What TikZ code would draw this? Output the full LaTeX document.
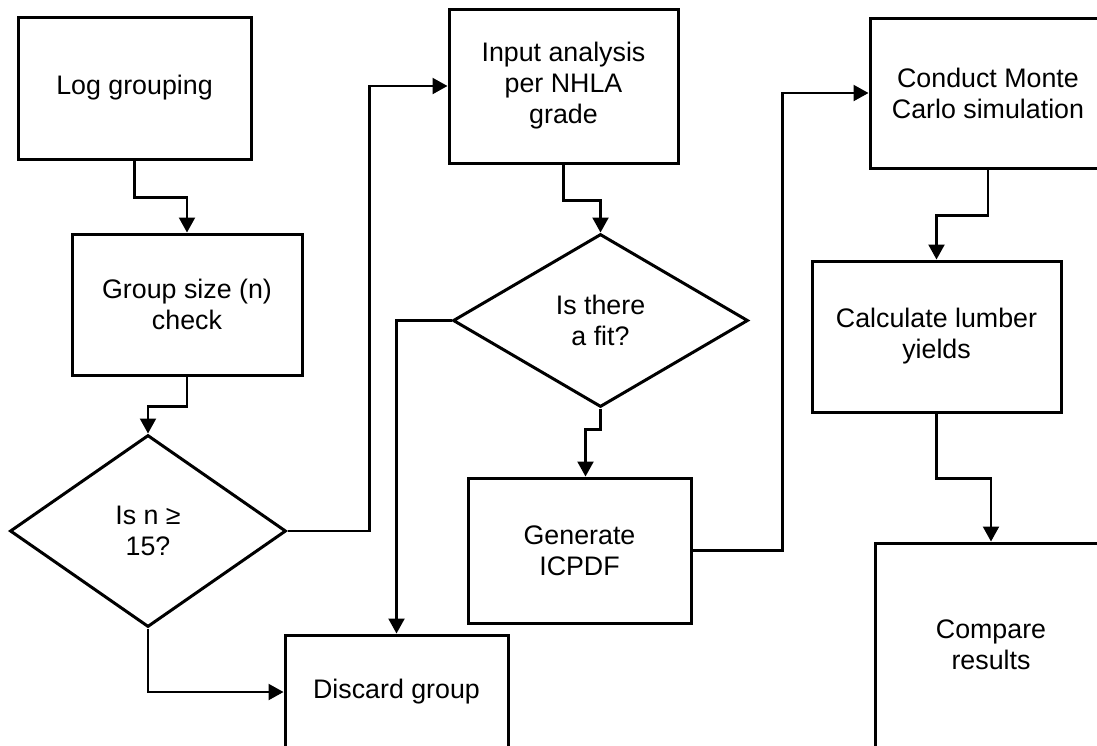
\documentclass[tikz,border=0pt]{standalone}
\usepackage{fontspec}
\setmainfont{Liberation Sans}
\usetikzlibrary{shapes.geometric,arrows.meta}

\begin{document}
\begin{tikzpicture}[x=0.5pt,y=-0.5pt,
	box/.style={draw,line width=1.5pt,align=center,inner sep=0pt,font=\fontsize{13.4}{15.5}\selectfont},
	decision/.style={draw,diamond,line width=1.5pt,align=center,inner sep=0pt,font=\fontsize{13.4}{15.5}\selectfont},
	line/.style={line width=1.1pt,-{Triangle[length=7.5pt,width=8pt]}}]
	% Page frame, the boxes on the right and bottom run off it
	\useasboundingbox (0,0) rectangle (1097,745);
	\clip (0,0) rectangle (1097,745);
	
	% Fixed coordinates
	\node (log) at (134.5,88) [box,minimum width=116.5pt,minimum height=71pt] {Log grouping};
	\node (grp) at (187,304.5) [box,minimum width=115pt,minimum height=70.5pt] {Group size (n)\\check};
	\node (ncheck) at (148,531) [decision,minimum width=138pt,minimum height=96pt] {Is n ≥\\15?};
	\node (disc) at (396.5,692) [box,minimum width=111.5pt,minimum height=57pt] {Discard group};
	\node (inp) at (563.5,86) [box,minimum width=114.5pt,minimum height=77pt] {Input analysis\\per NHLA\\grade};
	\node (fit) at (600.5,320.5) [decision,minimum width=147.5pt,minimum height=86.5pt] {Is there\\a fit?};
	\node (gen) at (579.5,550.5) [box,minimum width=111.5pt,minimum height=72.5pt] {Generate\\ICPDF};
	\node (mc) at (988,93) [box,minimum width=118pt,minimum height=75pt] {Conduct Monte\\Carlo simulation};
	\node (calc) at (936.5,336.5) [box,minimum width=124.5pt,minimum height=75.5pt] {Calculate lumber\\yields};
	\node (cmp) at (991,645) [box,minimum width=116pt,minimum height=102pt] {Compare\\results};
	
	% Connectors
	\draw[line] (log.south) -- ++(0,37) -| (grp.north);
	\draw[line] (grp.south) -- ++(0,30) -| (ncheck.north);
	\draw[line] (ncheck.east) -- ++(82,0) |- (inp.west);
	\draw[line] (ncheck.south) |- (disc.west);
	\draw[line] (inp.south) -- ++(0,36) -| (fit.north);
	\draw[line] (fit.west) -| (disc.north);
	\draw[line] (fit.south) -- ++(0,21) -| ([xshift=3pt]gen.north);
	\draw[line] (gen.east) -- ++(90,0) |- (mc.west);
	\draw[line] (mc.south) -- ++(0,46) -| (calc.north);
	\draw[line] (calc.south) -- ++(0,65) -| (cmp.north);
\end{tikzpicture}
\end{document}
